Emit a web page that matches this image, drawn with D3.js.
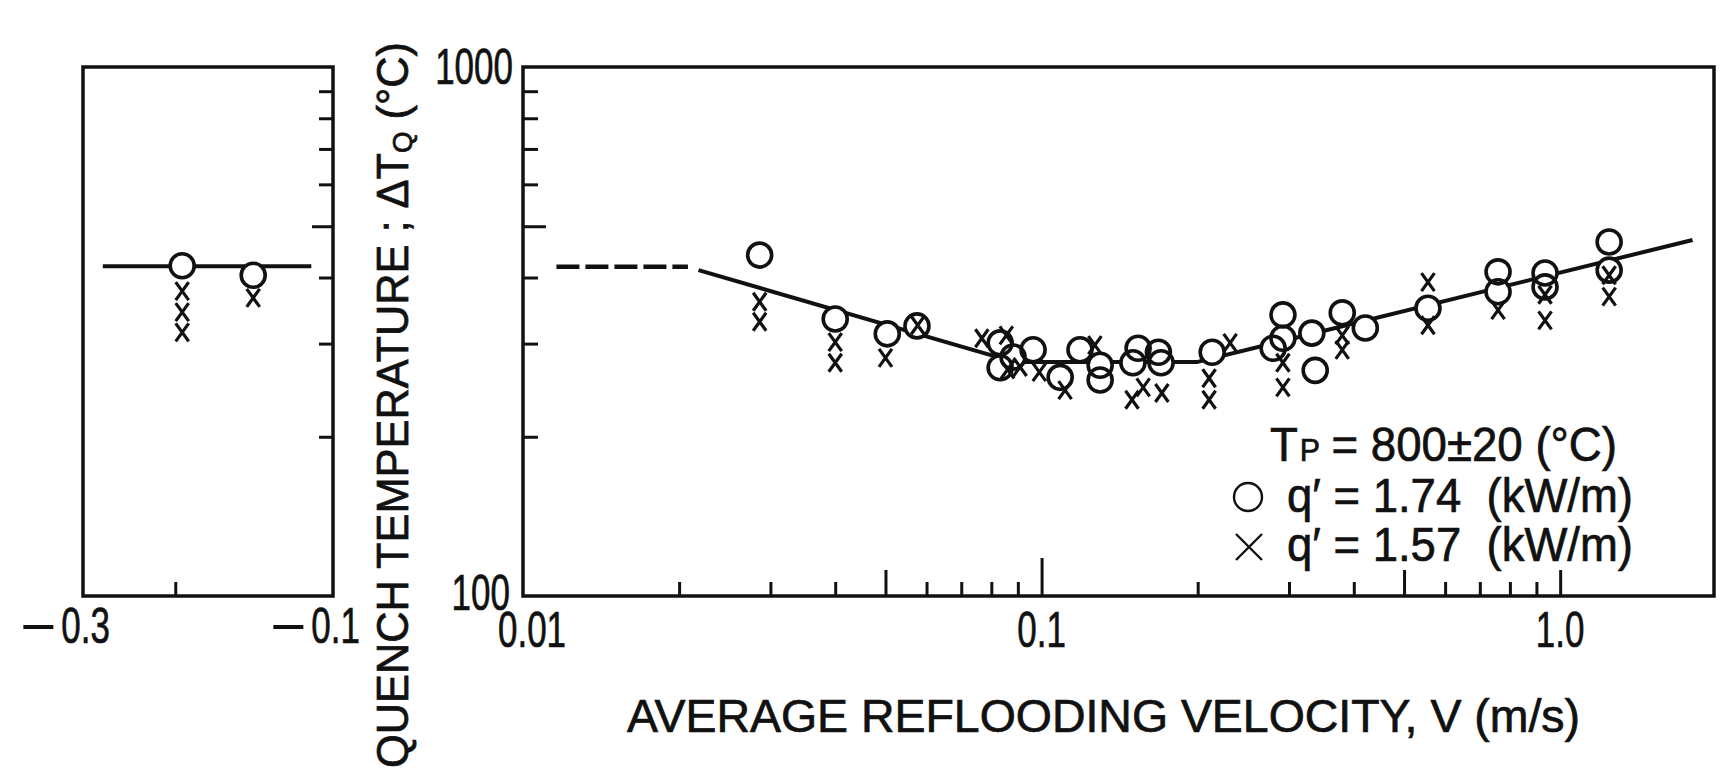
<!DOCTYPE html>
<html>
<head>
<meta charset="utf-8">
<script src="https://cdn.jsdelivr.net/npm/d3@7/dist/d3.min.js"></script>
<style>
  body { margin: 0; background: #fff; }
  svg text { fill: #111; font-family: "Liberation Sans", Arial, sans-serif; }
  .heavy { stroke: #111; stroke-width: 0.7px; }
</style>
</head>
<body>
<div id="chart"></div>
<script>
// negative velocity panel (left)
const negCircles = [[-0.194, 421], [-0.142, 404]];
const negCrosses = [[-0.194, 377], [-0.194, 344], [-0.194, 315], [-0.142, 366]];
const negFit = [[-0.275, 420], [-0.11, 420]];

// positive velocity panel (right), [V (m/s), dTq (C)]
const posCircles = [
  [0.0286, 441], [0.040, 334], [0.0504, 313], [0.0575, 324],
  [0.0832, 301], [0.0832, 270], [0.0881, 283], [0.0963, 292],
  [0.1086, 259], [0.1186, 292], [0.1297, 273], [0.1297, 256],
  [0.150, 276], [0.1535, 294], [0.168, 289], [0.170, 276],
  [0.2133, 289], [0.2796, 294], [0.292, 340], [0.292, 307],
  [0.332, 314], [0.337, 267], [0.38, 343], [0.421, 321],
  [0.556, 350], [0.759, 410], [0.759, 376], [0.935, 408],
  [0.935, 384], [1.243, 467], [1.243, 413]
];
const posCrosses = [
  [0.0286, 360], [0.0286, 330], [0.040, 302], [0.040, 276],
  [0.050, 282], [0.0577, 325], [0.0767, 307], [0.0855, 311],
  [0.086, 268], [0.0909, 271], [0.099, 265], [0.111, 245],
  [0.1267, 298], [0.1494, 235], [0.157, 248], [0.1706, 242],
  [0.2104, 258], [0.2104, 235], [0.231, 301], [0.292, 276],
  [0.292, 248], [0.38, 311], [0.38, 292], [0.556, 392],
  [0.556, 325], [0.759, 347], [0.935, 371], [0.935, 332],
  [1.243, 404], [1.243, 368]
];
const fitDashed = [[0.0116, 419], [0.0208, 419]];
const fitSolid = [[0.0218, 413], [0.0885, 277], [0.2, 277], [1.8, 471]];

// ticks
const yMinorTicks = [200, 300, 400, 600, 700, 800, 900];
const yMidTicks = [500];
const yLabels = [100, 1000];
const xMinorTicks = [0.02, 0.03, 0.04, 0.06, 0.07, 0.08, 0.09, 0.2, 0.3, 0.4, 0.6, 0.7, 0.8, 0.9];
const xMidTicks = [0.05, 0.5, 1.0];
const xMajorTicks = [0.1];
const xLabels = ['0.01', '0.1', '1.0'];
const negTicks = [-0.2];
const negLabels = [-0.3, -0.1];

const W = 1720, H = 772;
const svg = d3.select('#chart').append('svg')
  .attr('width', W).attr('height', H)
  .style('background', '#fff');

const y = d3.scaleLog().domain([100, 1000]).range([596, 67]);
const x = d3.scaleLog().domain([0.01, 1.98]).range([523, 1714]);
// left panel plots |V| on a reversed log axis
const xn = d3.scaleLog().domain([0.3, 0.1]).range([83, 333]);
const xl = (v) => xn(-v);

const ink = '#111';
const numSize = 50;
const squeeze = 0.7; // the printed digits are narrow

function ticks(g, axis, size) {
  g.call(axis.tickSize(size).tickFormat(''))
    .call((gr) => gr.select('.domain').remove())
    .call((gr) => gr.selectAll('.tick line').attr('stroke', ink).attr('stroke-width', 3));
}

// narrow number label, returns its drawn width
function num(sel, px, py, anchor, str) {
  const t = sel.append('text')
    .attr('class', 'heavy')
    .attr('transform', `translate(${px},${py}) scale(${squeeze},1)`)
    .attr('text-anchor', anchor)
    .attr('font-size', numSize)
    .text(str);
  return t.node().getComputedTextLength() * squeeze;
}

// ---- left panel ----
const left = svg.append('g');
left.append('rect')
  .attr('x', 83).attr('y', y(1000))
  .attr('width', 333 - 83).attr('height', y(100) - y(1000))
  .attr('fill', 'none').attr('stroke', ink).attr('stroke-width', 3.5);

left.append('g').attr('transform', 'translate(333,0)')
  .call((g) => ticks(g, d3.axisRight(y).tickValues(yMinorTicks), -14));
left.append('g').attr('transform', 'translate(333,0)')
  .call((g) => ticks(g, d3.axisRight(y).tickValues(yMidTicks), -21));
left.append('g').attr('transform', `translate(0,${y(100)})`)
  .call((g) => ticks(g, d3.axisBottom(xn).tickValues(negTicks.map((d) => -d)), -14));

negLabels.forEach((d) => {
  const end = xl(d) + 27;
  const w = num(left, end, 643, 'end', Math.abs(d).toFixed(1));
  // long minus sign, drawn as a bar
  left.append('line')
    .attr('x1', end - w - 38).attr('x2', end - w - 8)
    .attr('y1', 627).attr('y2', 627)
    .attr('stroke', ink).attr('stroke-width', 4);
});

const lineL = d3.line().x((d) => xl(d[0])).y((d) => y(d[1]));
left.append('path').datum(negFit)
  .attr('d', lineL).attr('fill', 'none')
  .attr('stroke', ink).attr('stroke-width', 4);

// ---- right panel ----
const right = svg.append('g');
right.append('rect')
  .attr('x', 523).attr('y', y(1000))
  .attr('width', 1714 - 523).attr('height', y(100) - y(1000))
  .attr('fill', 'none').attr('stroke', ink).attr('stroke-width', 3.5);

right.append('g').attr('transform', 'translate(523,0)')
  .call((g) => ticks(g, d3.axisLeft(y).tickValues(yMinorTicks), -15));
right.append('g').attr('transform', 'translate(523,0)')
  .call((g) => ticks(g, d3.axisLeft(y).tickValues(yMidTicks), -23));

const bottom = `translate(0,${y(100)})`;
right.append('g').attr('transform', bottom)
  .call((g) => ticks(g, d3.axisBottom(x).tickValues(xMinorTicks), -14));
right.append('g').attr('transform', bottom)
  .call((g) => ticks(g, d3.axisBottom(x).tickValues(xMidTicks), -26));
right.append('g').attr('transform', bottom)
  .call((g) => ticks(g, d3.axisBottom(x).tickValues(xMajorTicks), -38));

xLabels.forEach((d, i) => num(right, x(+d) + (i === 0 ? 9 : 0), 647, 'middle', d));
yLabels.forEach((d) => num(right, d === 100 ? 510 : 513, y(d) + (d === 100 ? 14 : 17), 'end', String(d)));

const lineR = d3.line().x((d) => x(d[0])).y((d) => y(d[1]));
right.append('path').datum(fitDashed)
  .attr('d', lineR).attr('fill', 'none')
  .attr('stroke', ink).attr('stroke-width', 4.5)
  .attr('stroke-dasharray', '23,6');
right.append('path').datum(fitSolid)
  .attr('d', lineR).attr('fill', 'none')
  .attr('stroke', ink).attr('stroke-width', 4)
  .attr('stroke-linejoin', 'round');

// ---- markers ----
const circleR = 12;
const allCircles = negCircles.map((d) => [xl(d[0]), y(d[1])])
  .concat(posCircles.map((d) => [x(d[0]), y(d[1])]));
const allCrosses = negCrosses.map((d) => [xl(d[0]), y(d[1])])
  .concat(posCrosses.map((d) => [x(d[0]), y(d[1])]));

// white fills first so the fit line is hidden inside the circles
svg.append('g').selectAll('circle').data(allCircles).join('circle')
  .attr('cx', (d) => d[0]).attr('cy', (d) => d[1]).attr('r', circleR)
  .attr('fill', '#fff');
svg.append('g').selectAll('circle').data(allCircles).join('circle')
  .attr('cx', (d) => d[0]).attr('cy', (d) => d[1]).attr('r', circleR)
  .attr('fill', 'none').attr('stroke', ink).attr('stroke-width', 3.6);

const cross = 'M-6.5,-9L6.5,9M6.5,-9L-6.5,9';
svg.append('g').selectAll('path').data(allCrosses).join('path')
  .attr('transform', (d) => `translate(${d[0]},${d[1]})`)
  .attr('d', cross)
  .attr('fill', 'none').attr('stroke', ink).attr('stroke-width', 3.2);

// ---- legend ----
const legend = svg.append('g').attr('font-size', 48);
const l1 = legend.append('text').attr('class', 'heavy').attr('x', 1270).attr('y', 461)
  .attr('textLength', 347).attr('lengthAdjust', 'spacingAndGlyphs');
l1.append('tspan').text('T');
l1.append('tspan').attr('font-size', 32).attr('dx', 2).text('P');
l1.append('tspan').attr('dx', 12).text('= 800\u00b120 (\u00b0C)');

legend.append('circle').attr('cx', 1248).attr('cy', 497).attr('r', 14)
  .attr('fill', 'none').attr('stroke', ink).attr('stroke-width', 2.4);
legend.append('text').attr('class', 'heavy').attr('x', 1287).attr('y', 512)
  .attr('xml:space', 'preserve')
  .attr('textLength', 346).attr('lengthAdjust', 'spacingAndGlyphs')
  .text('q\u2032 = 1.74  (kW/m)');

legend.append('path').attr('transform', 'translate(1249,547)')
  .attr('d', 'M-13,-13L13,13M13,-13L-13,13')
  .attr('fill', 'none').attr('stroke', ink).attr('stroke-width', 2.4);
legend.append('text').attr('class', 'heavy').attr('x', 1287).attr('y', 561)
  .attr('xml:space', 'preserve')
  .attr('textLength', 346).attr('lengthAdjust', 'spacingAndGlyphs')
  .text('q\u2032 = 1.57  (kW/m)');

// ---- axis titles ----
svg.append('text').attr('class', 'heavy')
  .attr('x', 627).attr('y', 732)
  .attr('font-size', 46)
  .attr('textLength', 953).attr('lengthAdjust', 'spacingAndGlyphs')
  .text('AVERAGE REFLOODING VELOCITY, V (m/s)');

const yt = svg.append('text').attr('class', 'heavy')
  .attr('transform', 'translate(408,768) rotate(-90)')
  .attr('font-size', 44)
  .attr('textLength', 726).attr('lengthAdjust', 'spacingAndGlyphs');
yt.append('tspan').text('QUENCH TEMPERATURE ; \u0394T');
yt.append('tspan').attr('font-size', 28).attr('dy', 4).text('Q');
yt.append('tspan').attr('dy', -4).text(' (\u00b0C)');
</script>
</body>
</html>
